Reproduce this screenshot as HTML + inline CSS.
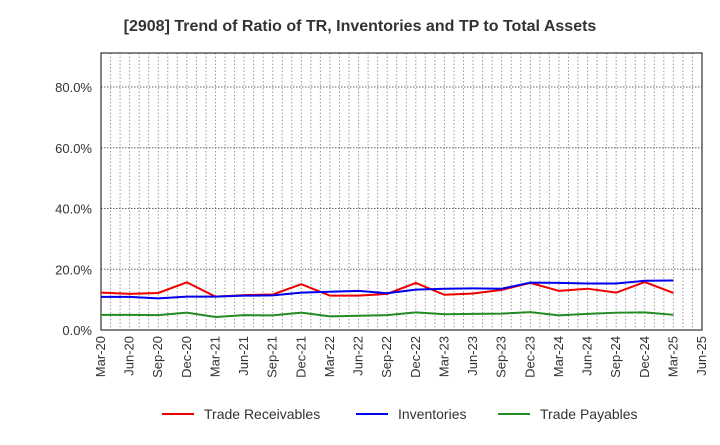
<!DOCTYPE html>
<html><head><meta charset="utf-8"><style>
body{margin:0;background:#fff;font-family:"Liberation Sans",sans-serif}
</style></head><body>
<svg width="720" height="440" xmlns="http://www.w3.org/2000/svg">
<text x="360" y="31" text-anchor="middle" font-size="16" font-weight="bold" fill="#333">[2908]  Trend of Ratio of TR, Inventories and TP to Total Assets</text>
<g id="grid"></g>
<g id="axes"></g>
<g id="series"></g>
<g id="legend"></g>
</svg>
<script>
const xLabels=["Mar-20","Jun-20","Sep-20","Dec-20","Mar-21","Jun-21","Sep-21","Dec-21","Mar-22","Jun-22","Sep-22","Dec-22","Mar-23","Jun-23","Sep-23","Dec-23","Mar-24","Jun-24","Sep-24","Dec-24","Mar-25","Jun-25"];
const yTicks=[0,20,40,60,80];
const tradeReceivables=[12.3,11.9,12.2,15.7,11.0,11.5,11.7,15.1,11.3,11.3,11.9,15.5,11.6,12.0,13.2,15.5,12.9,13.6,12.3,15.8,12.2];
const inventories=[10.9,10.9,10.4,11.0,11.0,11.3,11.4,12.3,12.6,12.9,12.1,13.3,13.6,13.7,13.6,15.6,15.5,15.3,15.3,16.2,16.3];
const tradePayables=[5.0,5.0,4.9,5.7,4.3,4.9,4.8,5.7,4.5,4.7,4.9,5.8,5.2,5.3,5.4,5.9,4.8,5.3,5.7,5.8,5.0];
const L=101,R=702,T=53,B=330,yMax=91.2;
const NS="http://www.w3.org/2000/svg";
const xs=i=>L+(R-L)*i/(xLabels.length-1);
const ys=v=>B-(B-T)*v/yMax;
function mk(p,t,a){const e=document.createElementNS(NS,t);for(const k in a)e.setAttribute(k,a[k]);p.appendChild(e);return e;}
const g=document.getElementById('grid'),ax=document.getElementById('axes'),s=document.getElementById('series'),lg=document.getElementById('legend');
const nm=(xLabels.length-1)*3;
for(let m=1;m<nm;m++){const x=L+(R-L)*m/nm;const e=mk(g,'line',{x1:x,x2:x,y1:T,y2:B,stroke:'#999','stroke-dasharray':'1.5,2','stroke-width':1});
}
yTicks.forEach(v=>{const y=ys(v);if(v>0){const e=mk(g,'line',{x1:L,x2:R,y1:y,y2:y,stroke:'#666','stroke-dasharray':'1.5,1.5','stroke-width':1});
}
const t=mk(ax,'text',{x:L-9,y:y+5,'text-anchor':'end','font-size':13,fill:'#333'});t.textContent=v.toFixed(1)+'%';
});
const fr=mk(ax,'rect',{x:L,y:T,width:R-L,height:B-T,fill:'none',stroke:'#333','stroke-width':1.2});

xLabels.forEach((l,i)=>{const x=xs(i);const t=mk(ax,'text',{transform:`translate(${x+4},${B+6}) rotate(-90)`,'text-anchor':'end','font-size':13,fill:'#333'});t.textContent=l;
});
const ser=[[tradeReceivables,'#ee0000','Trade Receivables','trade-receivables-line'],[inventories,'#0000ee','Inventories','inventories-line'],[tradePayables,'#228b22','Trade Payables','trade-payables-line']];
ser.forEach(([d,c,n,id])=>{const p=mk(s,'polyline',{points:d.map((v,i)=>xs(i)+','+ys(v)).join(' '),fill:'none',stroke:c,'stroke-width':2});
});
const lx=[162,356,498];
ser.forEach(([d,c,n],i)=>{const gg=mk(lg,'g',{});
mk(gg,'line',{x1:lx[i],x2:lx[i]+32,y1:414,y2:414,stroke:c,'stroke-width':2});
const t=mk(gg,'text',{x:lx[i]+42,y:419,'font-size':14,fill:'#333'});t.textContent=n;});
</script>
</body></html>
